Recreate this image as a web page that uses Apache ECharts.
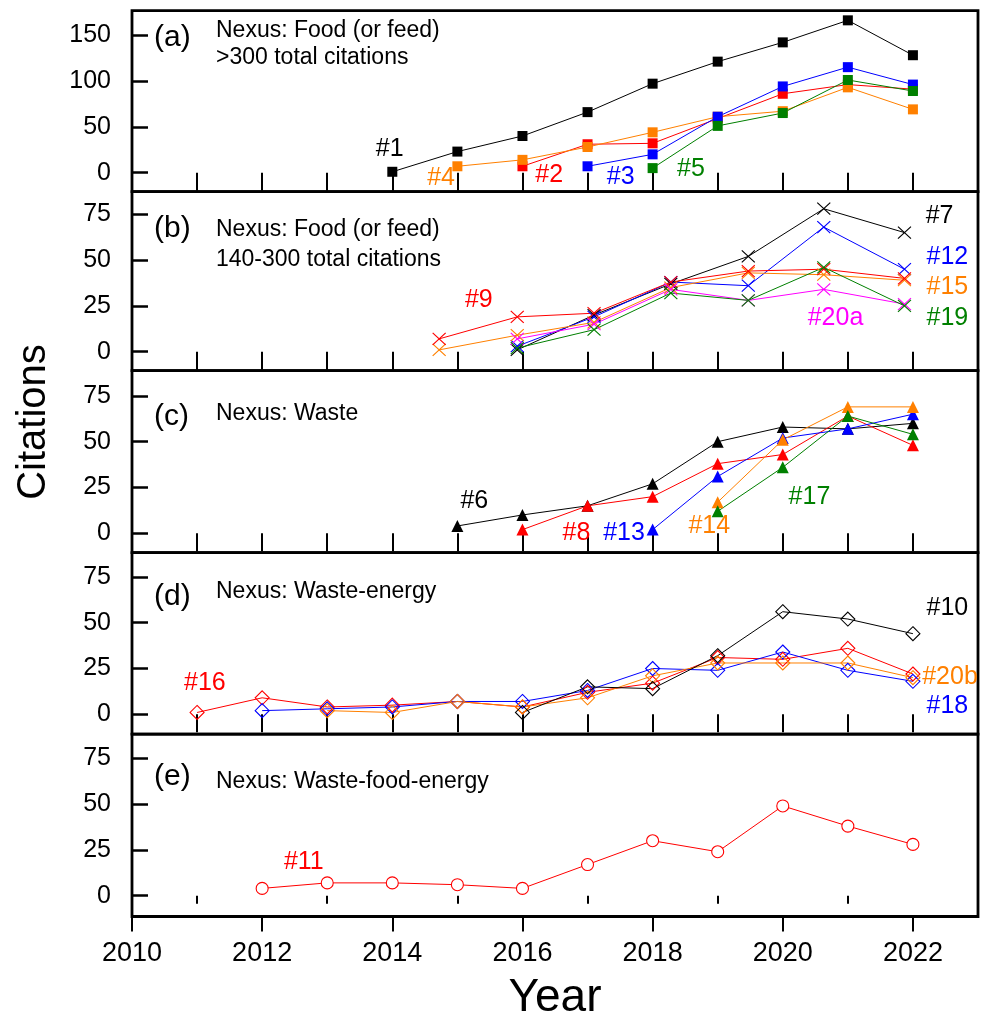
<!DOCTYPE html>
<html><head><meta charset="utf-8">
<script src="https://cdn.jsdelivr.net/npm/echarts@6/dist/echarts.min.js"></script>
<style>html,body{margin:0;padding:0;background:#fff}#c{width:981px;height:1016px}</style>
</head><body><div id="c"></div>
<script>
// ---------------- DATA ----------------
// (a) Nexus: Food (or feed) >300 total citations
const yearsA = [2014,2015,2016,2017,2018,2019,2020,2021,2022];
const a1 = [1,23,40,66,97,121,142,166,128];
const a2 = [null,null,7,31,32,59,86,96,91];
const a4 = [null,7,14,28,44,61,67,93,69];
const a3 = [null,null,null,7,20,61,94,115,96];
const a5 = [null,null,null,null,5,51,65,101,89];
// (b) Nexus: Food (or feed) 140-300 total citations (points sit off the yearly ticks in the source)
const posB = [2014.72,2015.92,2017.10,2018.28,2019.47,2020.63,2021.87];
const b7   = [null,1,20,37,52,78,65];
const b12  = [null,3,19,38,36,68,45];
const b15  = [1,9,16,35,43,42,39];
const b19  = [null,2,12,32,28,46,25];
const b9   = [7,19,21,38,44,45,40];
const b20a = [null,7,15,34,28,34,26];
// (c) Nexus: Waste
const yearsC = [2015,2016,2017,2018,2019,2020,2021,2022];
const c6  = [4,10,15,27,50,58,57,60];
const c8  = [null,2,15,20,38,43,64,48];
const c13 = [null,null,null,2,31,52,57,65];
const c14 = [null,null,null,null,17,51,69,69];
const c17 = [null,null,null,null,12,36,64,54];
// (d) Nexus: Waste-energy
const yearsD = [2011,2012,2013,2014,2015,2016,2017,2018,2019,2020,2021,2022];
const d16  = [1,9,4,5,7,4,12,17,31,30,36,22];
const d18  = [null,2,3,4,7,7,13,25,24,34,24,18];
const d20b = [null,null,2,1,7,4,9,21,28,28,28,20];
const d10  = [null,null,null,null,null,1,15,14,32,56,52,44];
// (e) Nexus: Waste-food-energy
const yearsE = [2012,2013,2014,2015,2016,2017,2018,2019,2020,2021,2022];
const e11 = [4,7,7,6,4,17,30,24,49,38,28];

// tick labels
const xLabelYears = [2010,2012,2014,2016,2018,2020,2022];
const xMinorYears = [2011,2013,2015,2017,2019,2021];
const xAllYears = [2011,2012,2013,2014,2015,2016,2017,2018,2019,2020,2021,2022];
const yTicksA = [0,50,100,150];
const yTicksB = [0,25,50,75];

// series tags (text, x, y in data coordinates)
const tagsA = [['#1',2013.96,25.8],['#4',2014.75,-5.8],['#2',2016.41,-2.5],['#3',2017.51,-4.7],['#5',2018.59,4.0]];
const tagsB = [['#7',2022.41,74.2],['#12',2022.53,51.7],['#15',2022.53,35.5],['#19',2022.53,18.2],['#9',2015.33,27.9],['#20a',2020.81,18.2]];
const tagsC = [['#6',2015.26,17.7],['#8',2016.83,0],['#13',2017.56,0.2],['#14',2018.87,4.1],['#17',2020.41,20.0]];
const tagsD = [['#10',2022.53,57.9],['#20b',2022.57,20.5],['#18',2022.53,4.6],['#16',2011.12,16.9]];
const tagsE = [['#11',2012.64,18.1]];

// ---------------- STYLE / LAYOUT ----------------
const FONT = '"Liberation Sans", Arial, Helvetica, sans-serif';
const COL = {k:'#000000', r:'#FF0000', b:'#0000FF', o:'#FF8000', g:'#008000', m:'#FF00FF'};
const tagColA = [COL.k, COL.o, COL.r, COL.b, COL.g];
const tagColB = [COL.k, COL.b, COL.o, COL.g, COL.r, COL.m];
const tagColC = [COL.k, COL.r, COL.b, COL.o, COL.g];
const tagColD = [COL.k, COL.o, COL.b, COL.r];
const tagColE = [COL.r];

const P = [
  {top:10.7,  h:181.0, min:-20.7,  max:176.5, ticks:yTicksA},
  {top:191.7, h:179.0, min:-10.37, max:87.3,  ticks:yTicksB},
  {top:370.7, h:182.0, min:-10.6,  max:88.75, ticks:yTicksB},
  {top:552.7, h:181.5, min:-10.86, max:88.2,  ticks:yTicksB},
  {top:734.2, h:182.3, min:-11.35, max:88.15, ticks:yTicksB}
];
const XIDX = [0,1,2,3,4];
const XSYM = 'path://M0,0L10,10M10,0L0,10';

function ser(gi, xs, ys, color, sym, size, fill, bw) {
  return {
    type:'line', xAxisIndex:XIDX[gi], yAxisIndex:gi,
    data: xs.map((x,i)=>[x, ys[i]]).filter(d=>d[1]!=null),
    symbol:sym, symbolSize:size, showSymbol:true, showAllSymbol:true,
    lineStyle:{color:color, width:1},
    itemStyle:{color:fill, borderColor:color, borderWidth:bw, opacity:1},
    silent:true, animation:false, z:3
  };
}
function tags(gi, list, cols) {
  return {
    type:'scatter', xAxisIndex:XIDX[gi], yAxisIndex:gi, symbolSize:1, silent:true, z:10,
    itemStyle:{color:'rgba(0,0,0,0)', opacity:1},
    data: list.map((t,i)=>({value:[t[1],t[2]], label:{formatter:t[0], color:cols[i]}})),
    label:{show:true, position:'inside', fontSize:25, fontFamily:FONT, opacity:1}
  };
}
const SQ = ['rect',10], TRI = ['triangle',12], DIA = ['diamond',14], CIR = ['circle',12];

const series = [
  ser(0,yearsA,a1,COL.k,SQ[0],SQ[1],COL.k,0),
  ser(0,yearsA,a2,COL.r,SQ[0],SQ[1],COL.r,0),
  ser(0,yearsA,a4,COL.o,SQ[0],SQ[1],COL.o,0),
  ser(0,yearsA,a3,COL.b,SQ[0],SQ[1],COL.b,0),
  ser(0,yearsA,a5,COL.g,SQ[0],SQ[1],COL.g,0),
  ser(1,posB,b7,COL.k,XSYM,[13,12],'transparent',1.1),
  ser(1,posB,b12,COL.b,XSYM,[13,12],'transparent',1.1),
  ser(1,posB,b15,COL.o,XSYM,[13,12],'transparent',1.1),
  ser(1,posB,b9,COL.r,XSYM,[13,12],'transparent',1.1),
  ser(1,posB,b20a,COL.m,XSYM,[13,12],'transparent',1.1),
  ser(1,posB,b19,COL.g,XSYM,[13,12],'transparent',1.1),
  ser(2,yearsC,c6,COL.k,TRI[0],TRI[1],COL.k,0),
  ser(2,yearsC,c8,COL.r,TRI[0],TRI[1],COL.r,0),
  ser(2,yearsC,c13,COL.b,TRI[0],TRI[1],COL.b,0),
  ser(2,yearsC,c14,COL.o,TRI[0],TRI[1],COL.o,0),
  ser(2,yearsC,c17,COL.g,TRI[0],TRI[1],COL.g,0),
  ser(3,yearsD,d16,COL.r,DIA[0],DIA[1],'transparent',1.1),
  ser(3,yearsD,d18,COL.b,DIA[0],DIA[1],'transparent',1.1),
  ser(3,yearsD,d20b,COL.o,DIA[0],DIA[1],'transparent',1.1),
  ser(3,yearsD,d10,COL.k,DIA[0],DIA[1],'transparent',1.1),
  ser(4,yearsE,e11,COL.r,CIR[0],CIR[1],'#ffffff',1.1),
  tags(0,tagsA,tagColA), tags(1,tagsB,tagColB), tags(2,tagsC,tagColC), tags(3,tagsD,tagColD), tags(4,tagsE,tagColE)
];

const xAxes = [];
for (let i=0;i<4;i++) xAxes.push({
  gridIndex:i, type:'value', min:2010, max:2023, position:'bottom',
  axisLine:{show:false}, splitLine:{show:false}, axisLabel:{show:false},
  axisTick:{show:true, inside:false, length:18, customValues:xAllYears, lineStyle:{color:'#000', width:2}}
});
xAxes.push({
  gridIndex:4, type:'value', min:2010, max:2023, position:'bottom',
  axisLine:{show:false}, splitLine:{show:false},
  axisLabel:{show:true, customValues:xLabelYears, formatter:v=>String(Math.round(v)), fontSize:27, fontFamily:FONT, color:'#000', margin:24},
  axisTick:{show:true, inside:false, length:8, customValues:xMinorYears, lineStyle:{color:'#000', width:2}}
});
xAxes.push({
  gridIndex:4, type:'value', min:2010, max:2023, position:'bottom',
  axisLine:{show:false}, splitLine:{show:false}, axisLabel:{show:false},
  axisTick:{show:true, inside:false, length:15, customValues:xLabelYears, lineStyle:{color:'#000', width:2}}
});

const yAxes = P.map((p,i)=>({
  gridIndex:i, type:'value', min:p.min, max:p.max,
  axisLine:{show:false}, splitLine:{show:false},
  axisTick:{show:true, inside:true, length:16, customValues:p.ticks, lineStyle:{color:'#000', width:2.5}},
  axisLabel:{show:true, customValues:p.ticks, formatter:v=>String(Math.round(v)), fontSize:25, fontFamily:FONT, color:'#000', margin:21}
}));

function txt(x,y,s,size,extra) {
  return Object.assign({type:'text', x:x, y:y, silent:true, z:50,
    style:{text:s, fontSize:size, fontFamily:FONT, fill:'#000', align:'left', verticalAlign:'middle'}}, extra||{});
}
const graphic = [
  txt(154,38,'(a)',30), txt(216,30.7,'Nexus: Food (or feed)',23), txt(216,57.5,'>300 total citations',23),
  txt(154,229,'(b)',30), txt(216,230,'Nexus: Food (or feed)',23), txt(216,259.5,'140-300 total citations',23),
  txt(154,417,'(c)',30), txt(216,413.5,'Nexus: Waste',23),
  txt(154,597,'(d)',30), txt(216,592,'Nexus: Waste-energy',23),
  txt(154,777,'(e)',30), txt(216,782,'Nexus: Waste-food-energy',23),
  {type:'text', x:555, y:998.5, silent:true, style:{text:'Year', fontSize:46, fontFamily:FONT, fill:'#000', align:'center', verticalAlign:'middle'}},
  {type:'text', x:34, y:422, rotation:Math.PI/2, silent:true, style:{text:'Citations', fontSize:40, fontFamily:FONT, fill:'#000', align:'center', verticalAlign:'middle'}}
];

const chart = echarts.init(document.getElementById('c'), null, {renderer:'canvas'});
chart.setOption({
  animation:false,
  backgroundColor:'#ffffff',
  grid: P.map(p=>({left:132, right:3, top:p.top, height:p.h, show:true, borderColor:'#000', borderWidth:2.8, backgroundColor:'transparent', containLabel:false, outerBoundsMode:'none'})),
  xAxis: xAxes,
  yAxis: yAxes,
  series: series,
  graphic: graphic
});
</script></body></html>
